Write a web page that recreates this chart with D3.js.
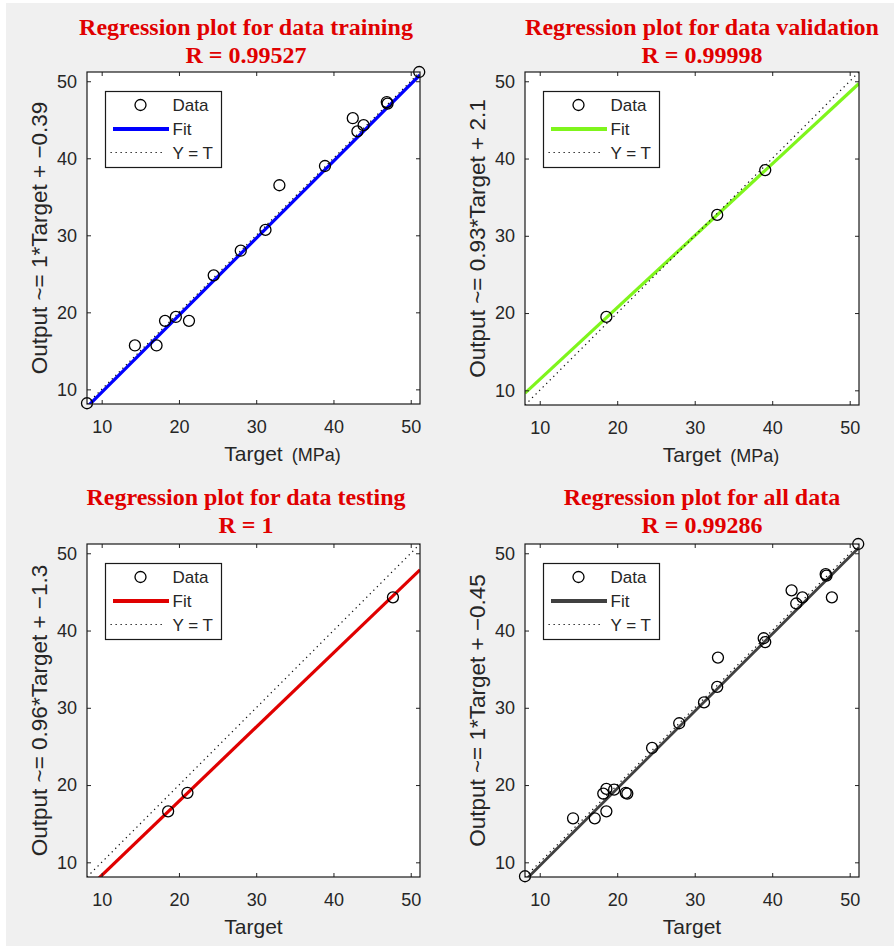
<!DOCTYPE html>
<html>
<head>
<meta charset="utf-8">
<script src="https://cdn.jsdelivr.net/npm/d3@7"></script>
<style>
  body { margin: 0; background: #fff; }
  .tick text { font-family: "Liberation Sans", Arial, sans-serif; font-size: 18px; fill: #262626; }
</style>
</head>
<body>
<svg id="chart" width="894" height="946"></svg>
<script>
// data
var trainTarget = [8.1, 14.3, 17.1, 18.2, 19.6, 21.3, 24.5, 28.0, 31.2, 33.0, 38.9, 42.5, 43.1, 43.9, 46.9, 47.0, 51.1];
var trainOutput = [8.2, 15.7, 15.7, 18.9, 19.4, 18.9, 24.8, 28.0, 30.7, 36.5, 39.0, 45.2, 43.5, 44.3, 47.3, 47.1, 51.2];
var valTarget = [18.6, 32.9, 39.1];
var valOutput = [19.5, 32.7, 38.5];
var testTarget = [18.6, 21.1, 47.7];
var testOutput = [16.6, 19.0, 44.3];

var titles = ['Regression plot for data training', 'Regression plot for data validation',
  'Regression plot for data testing', 'Regression plot for all data'];
var rValues = ['0.99527', '0.99998', '1', '0.99286'];
var slopes = ['1', '0.93', '0.96', '1'];
var intercepts = [-0.39, 2.1, -1.3, -0.45];
var fitColors = ['#0000ff', '#7ff51c', '#e00000', '#404040'];
var xUnits = ['(MPa)', '(MPa)', '', ''];
var axisDomain = [8.1, 51.2];
var tickValues = [10, 20, 30, 40, 50];

var seriesT = [trainTarget, valTarget, testTarget, trainTarget.concat(valTarget, testTarget)];
var seriesO = [trainOutput, valOutput, testOutput, trainOutput.concat(valOutput, testOutput)];

// panel boxes
var boxes = [
  { x0: 87, x1: 420, y0: 72, y1: 404, tx: 246, ty: 35 },
  { x0: 525, x1: 859, y0: 72, y1: 405, tx: 702, ty: 35 },
  { x0: 87, x1: 420, y0: 544, y1: 877, tx: 246, ty: 505 },
  { x0: 525, x1: 859, y0: 544, y1: 877, tx: 702, ty: 505 }
];

var sans = '"Liberation Sans", Arial, sans-serif';
var serif = '"Liberation Serif", "Times New Roman", serif';
var textColor = '#262626';

var svg = d3.select('#chart');
svg.append('rect').attr('x', 6).attr('y', 3).attr('width', 888).attr('height', 943).attr('fill', '#f0f0f0');

function fmtIntercept(b) {
  return b < 0 ? '\u2212' + Math.abs(b) : '' + b;
}

boxes.forEach(function (box, i) {
  var x = d3.scaleLinear().domain(axisDomain).range([box.x0, box.x1]);
  var y = d3.scaleLinear().domain(axisDomain).range([box.y1, box.y0]);
  var g = svg.append('g');

  // title
  var title = g.append('text')
    .attr('x', box.tx)
    .attr('y', box.ty)
    .attr('text-anchor', 'middle')
    .attr('fill', '#e00000')
    .style('font-family', serif)
    .style('font-weight', 'bold')
    .style('font-size', '24px');
  title.append('tspan').text(titles[i]);
  title.append('tspan').attr('x', box.tx).attr('dy', 28).text('R = ' + rValues[i]);

  g.append('rect')
    .attr('x', box.x0).attr('y', box.y0)
    .attr('width', box.x1 - box.x0).attr('height', box.y1 - box.y0)
    .attr('fill', '#fff');

  var clipId = 'clip' + i;
  g.append('clipPath').attr('id', clipId)
    .append('rect')
    .attr('x', box.x0).attr('y', box.y0)
    .attr('width', box.x1 - box.x0).attr('height', box.y1 - box.y0);

  var plot = g.append('g').attr('clip-path', 'url(#' + clipId + ')');
  var line = d3.line()
    .x(function (d) { return x(d[0]); })
    .y(function (d) { return y(d[1]); });

  var slope = +slopes[i], icpt = intercepts[i];
  plot.append('path')
    .attr('d', line(axisDomain.map(function (t) { return [t, slope * t + icpt]; })))
    .attr('stroke', fitColors[i])
    .attr('stroke-width', i == 3 ? 2.8 : 3.2)
    .attr('fill', 'none');

  plot.append('path')
    .attr('d', line(axisDomain.map(function (t) { return [t, t]; })))
    .attr('stroke', '#111')
    .attr('stroke-width', 1.2)
    .attr('stroke-dasharray', '1.3,3.7')
    .attr('fill', 'none');

  g.selectAll('.nothing')
    .data(d3.zip(seriesT[i], seriesO[i]))
    .enter().append('circle')
    .attr('cx', function (d) { return x(d[0]); })
    .attr('cy', function (d) { return y(d[1]); })
    .attr('r', 5.5)
    .attr('fill', 'none')
    .attr('stroke', '#000')
    .attr('stroke-width', 1.3);

  // axes, inward ticks on every side
  var axes = [
    [d3.axisBottom(x), 'translate(0,' + box.y1 + ')', true],
    [d3.axisLeft(y), 'translate(' + box.x0 + ',0)', true],
    [d3.axisTop(x), 'translate(0,' + box.y0 + ')', false],
    [d3.axisRight(y), 'translate(' + box.x1 + ',0)', false]
  ];
  axes.forEach(function (a, k) {
    var ax = a[0].tickValues(tickValues).tickSizeInner(-4).tickSizeOuter(0)
      .tickPadding(k == 0 ? 16 : 10);
    if (!a[2]) ax.tickFormat('');
    var ag = g.append('g').attr('transform', a[1]).call(ax);
    ag.select('.domain').remove();
    ag.selectAll('line').attr('stroke', '#222');
  });
  g.append('rect')
    .attr('x', box.x0).attr('y', box.y0)
    .attr('width', box.x1 - box.x0).attr('height', box.y1 - box.y0)
    .attr('fill', 'none')
    .attr('stroke', '#1a1a1a')
    .attr('stroke-width', 1.2);

  // axis labels
  var cx = (box.x0 + box.x1) / 2, cy = (box.y0 + box.y1) / 2;
  g.append('text')
    .attr('transform', 'translate(' + (box.x0 - 40) + ',' + cy + ') rotate(-90)')
    .attr('text-anchor', 'middle')
    .attr('fill', textColor)
    .style('font-family', sans)
    .style('font-size', '22.5px')
    .text('Output ~= ' + slopes[i] + '*Target + ' + fmtIntercept(intercepts[i]));

  var xl = g.append('text')
    .attr('x', cx)
    .attr('y', box.y1 + 57)
    .attr('text-anchor', 'middle')
    .attr('fill', textColor)
    .style('font-family', sans)
    .style('font-size', '21px')
    .text('Target');
  if (xUnits[i]) {
    var w = xl.node().getComputedTextLength();
    g.append('text')
      .attr('x', cx + w / 2 + 9)
      .attr('y', box.y1 + 57)
      .attr('fill', textColor)
      .style('font-family', sans)
      .style('font-size', '18px')
      .text(xUnits[i]);
  }

  // legend
  var lx = box.x0 + 18.5, ly = box.y0 + 19.5;
  var leg = g.append('g').attr('transform', 'translate(' + lx + ',' + ly + ')');
  leg.append('rect')
    .attr('width', 116).attr('height', 76)
    .attr('fill', '#fff')
    .attr('stroke', '#1a1a1a')
    .attr('stroke-width', 1.2);
  leg.append('circle')
    .attr('cx', 35).attr('cy', 13.5).attr('r', 5.5)
    .attr('fill', 'none').attr('stroke', '#000').attr('stroke-width', 1.3);
  leg.append('line')
    .attr('x1', 7.5).attr('x2', 63.5).attr('y1', 37.5).attr('y2', 37.5)
    .attr('stroke', fitColors[i]).attr('stroke-width', 3.8);
  leg.append('line')
    .attr('x1', 5).attr('x2', 59).attr('y1', 61).attr('y2', 61)
    .attr('stroke', '#111').attr('stroke-width', 1.2).attr('stroke-dasharray', '1.3,3.7');
  leg.selectAll('.nothing')
    .data(['Data', 'Fit', 'Y = T'])
    .enter().append('text')
    .attr('x', 67)
    .attr('y', function (d, k) { return 19.5 + k * 24; })
    .attr('fill', textColor)
    .style('font-family', sans)
    .style('font-size', '17px')
    .text(function (d) { return d; });
});
</script>
</body>
</html>
